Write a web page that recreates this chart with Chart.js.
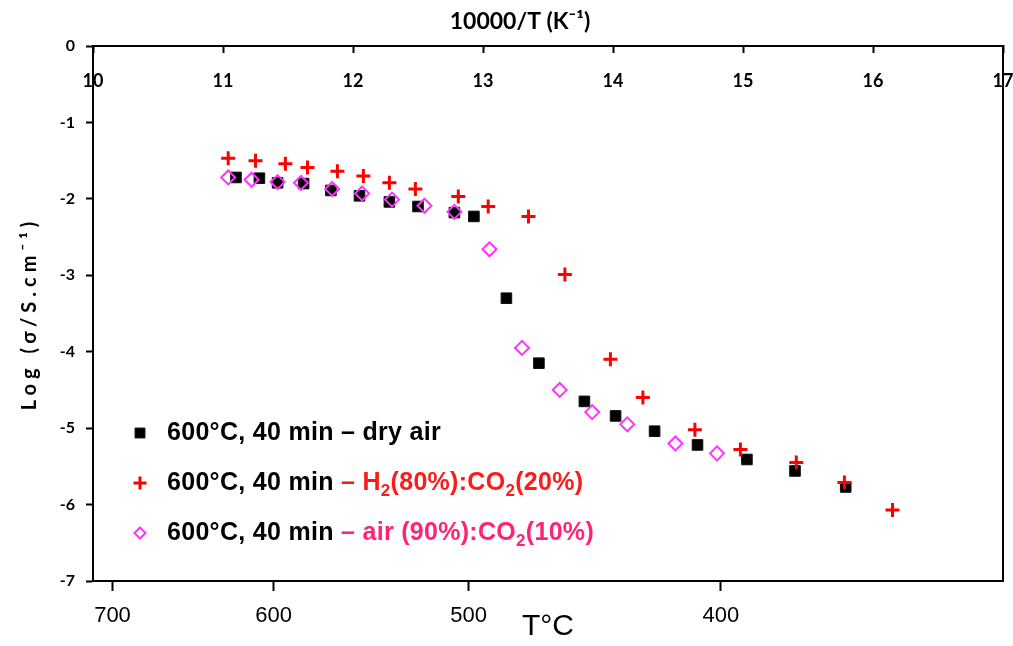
<!DOCTYPE html>
<html><head><meta charset="utf-8">
<script src="https://cdn.jsdelivr.net/npm/chart.js@4.4.1/dist/chart.umd.min.js"></script>
<style>html,body{margin:0;padding:0;background:#fff;} #wrap{position:relative;width:1013px;height:646px;}</style>
</head><body><div id="wrap"><canvas id="c"></canvas></div>
<script>
// ---- data (x = 10000/T in K^-1, y = log sigma) ----
const dryInvT = [11.10,11.28,11.42,11.62,11.83,12.05,12.28,12.50,12.78,12.93,13.18,13.43,13.78,14.02,14.32,14.65,15.03,15.40,15.79];
const dryLogSigma = [-1.72,-1.73,-1.79,-1.80,-1.89,-1.96,-2.04,-2.10,-2.18,-2.23,-3.30,-4.15,-4.65,-4.84,-5.04,-5.22,-5.41,-5.56,-5.77];
const h2InvT = [11.04,11.25,11.48,11.65,11.88,12.08,12.28,12.48,12.81,13.04,13.35,13.63,13.98,14.23,14.63,14.98,15.41,15.78,16.15];
const h2LogSigma = [-1.47,-1.50,-1.54,-1.59,-1.64,-1.70,-1.79,-1.87,-1.97,-2.10,-2.23,-2.99,-4.10,-4.60,-5.02,-5.28,-5.45,-5.71,-6.07];
const airInvT = [11.04,11.22,11.42,11.60,11.84,12.07,12.30,12.55,12.78,13.05,13.30,13.59,13.84,14.11,14.48,14.80];
const airLogSigma = [-1.72,-1.75,-1.78,-1.79,-1.87,-1.93,-2.01,-2.09,-2.17,-2.66,-3.95,-4.50,-4.79,-4.95,-5.20,-5.33];
const seriesPrefix = '600°C, 40 min ';
const seriesGas = ['– dry air', '– H₂(80%):CO₂(20%)', '– air (90%):CO₂(10%)'];
const tempLabels = ['700', '600', '500', '400'];
const tempTickInvT = [10.15, 11.39, 12.89, 14.83];
const topTitle = '10000/T (K⁻¹)';
const bottomTitle = 'T°C';
const yTitle = 'Log (σ/S.cm⁻¹)';

const CAL = 'Lato, "Open Sans", "DejaVu Sans", sans-serif';
const ARIAL = '"Liberation Sans", Arial, sans-serif';
const gasColors = ['#000000', '#ff1a1a', '#ff2277'];

function pts(xs, ys) { return xs.map((x, i) => ({ x: x, y: ys[i] })); }

const legendPlugin = {
  id: 'customLegend',
  afterDatasetsDraw(chart) {
    const ctx = chart.ctx;
    const mx = 140, tx = 167, rows = [433, 483, 533];
    const big = 'bold 25px ' + ARIAL, small = 'bold 17px ' + ARIAL;
    chart.data.datasets.forEach((ds, i) => {
      const y = rows[i];
      ctx.save();
      ctx.lineWidth = ds.pointBorderWidth;
      ctx.strokeStyle = ds.borderColor;
      ctx.fillStyle = ds.backgroundColor;
      Chart.helpers.drawPoint(ctx, { pointStyle: ds.pointStyle, radius: ds.legendRadius, borderWidth: ds.pointBorderWidth, rotation: 0 }, mx, y);
      ctx.restore();
      ctx.save();
      ctx.letterSpacing = '0.3px';
      ctx.textBaseline = 'middle'; ctx.textAlign = 'left';
      ctx.font = big; ctx.fillStyle = '#000';
      ctx.fillText(seriesPrefix, tx, y);
      let cx = tx + ctx.measureText(seriesPrefix).width;
      ctx.fillStyle = gasColors[i];
      const parts = seriesGas[i].split('₂');
      parts.forEach((p, k) => {
        ctx.font = big;
        ctx.fillText(p, cx, y);
        cx += ctx.measureText(p).width;
        if (k < parts.length - 1) {
          ctx.font = small;
          ctx.fillText('2', cx, y + 8);
          cx += ctx.measureText('2').width;
        }
      });
      ctx.restore();
    });
  }
};

const titlePatch = {
  id: 'titlePatch',
  beforeDraw(chart) {
    const sy = chart.scales.y, sx = chart.scales.x;
    if (sy && !sy._patched) {
      const o = sy.drawTitle;
      sy.drawTitle = function () { this.ctx.save(); this.ctx.letterSpacing = '5px'; o.apply(this, arguments); this.ctx.restore(); };
      sy._patched = true;
    }
    if (sx && !sx._patched) {
      const o2 = sx.drawTitle;
      sx.drawTitle = function () { this.ctx.save(); this.ctx.translate(-28, 0); o2.apply(this, arguments); this.ctx.restore(); };
      sx._patched = true;
    }
  }
};

new Chart(document.getElementById('c'), {
  type: 'scatter',
  data: {
    datasets: [
      { label: seriesPrefix + seriesGas[0], data: pts(dryInvT, dryLogSigma), pointStyle: 'rect', pointRadius: 7.5, legendRadius: 7,
        backgroundColor: '#000', borderColor: '#111', pointBorderWidth: 1, order: 3, xAxisID: 'x', yAxisID: 'y' },
      { label: seriesPrefix + seriesGas[1], data: pts(h2InvT, h2LogSigma), pointStyle: 'cross', pointRadius: 7, legendRadius: 6.5,
        backgroundColor: '#ff0000', borderColor: '#ff0000', pointBorderWidth: 3, order: 1, xAxisID: 'x', yAxisID: 'y' },
      { label: seriesPrefix + seriesGas[2], data: pts(airInvT, airLogSigma), pointStyle: 'rectRot', pointRadius: 7, legendRadius: 5.5,
        backgroundColor: 'rgba(255,255,255,0)', borderColor: '#ff33ff', pointBorderWidth: 2, order: 2, xAxisID: 'x', yAxisID: 'y' }
    ]
  },
  options: {
    responsive: true, maintainAspectRatio: false, animation: false,
    layout: { padding: { left: 0, right: 10, top: 0, bottom: 0 } },
    plugins: { legend: { display: false }, tooltip: { enabled: false } },
    scales: {
      x: {
        type: 'linear', position: 'top', min: 10, max: 17,
        ticks: { stepSize: 1, color: '#000', font: { family: CAL, size: 18, weight: 'bold', lineHeight: 1 }, padding: 26, mirror: true, maxRotation: 0, autoSkip: false },
        grid: { drawOnChartArea: false, tickLength: -7, tickWidth: 2, tickColor: '#000' },
        border: { color: '#000', width: 2 },
        title: { display: true, text: topTitle, color: '#000', font: { family: CAL, size: 23, weight: 'bold', lineHeight: 1 }, padding: { top: 10, bottom: 0 } },
        afterFit(s) { s.height = 46; s.paddingLeft = 0; s.paddingRight = 0; }
      },
      xb: {
        type: 'linear', position: 'bottom', min: 10, max: 17,
        afterBuildTicks(s) { s.ticks = tempTickInvT.map(v => ({ value: v })); },
        ticks: { callback: (v, i) => tempLabels[i], color: '#000', font: { family: ARIAL, size: 22, lineHeight: 1 }, padding: 14, maxRotation: 0, autoSkip: false },
        grid: { drawOnChartArea: false, tickLength: 10, tickWidth: 2, tickColor: '#000' },
        border: { color: '#000', width: 2 },
        title: { display: true, text: bottomTitle, color: '#000', font: { family: ARIAL, size: 30, lineHeight: 1 }, padding: { top: 0, bottom: 4 } },
        afterFit(s) { s.height = 65; s.paddingLeft = 0; s.paddingRight = 0; }
      },
      y: {
        type: 'linear', position: 'left', min: -7, max: 0,
        ticks: { stepSize: 1, color: '#000', font: { family: CAL, size: 16, weight: 'bold', lineHeight: 1 }, padding: 11 },
        grid: { drawOnChartArea: false, tickLength: 7, tickWidth: 2, tickColor: '#000' },
        border: { color: '#000', width: 2 },
        title: { display: true, text: yTitle, color: '#000', font: { family: CAL, size: 20, weight: 'bold', lineHeight: 1 }, padding: { top: 20, bottom: 0 } },
        afterFit(s) { s.width = 93; }
      },
      yr: {
        type: 'linear', position: 'right', min: -7, max: 0,
        ticks: { display: false },
        grid: { drawOnChartArea: false, drawTicks: false },
        border: { color: '#000', width: 2 },
        afterFit(s) { s.width = 0; }
      }
    }
  },
  plugins: [legendPlugin, titlePatch]
});
</script>
</body></html>
